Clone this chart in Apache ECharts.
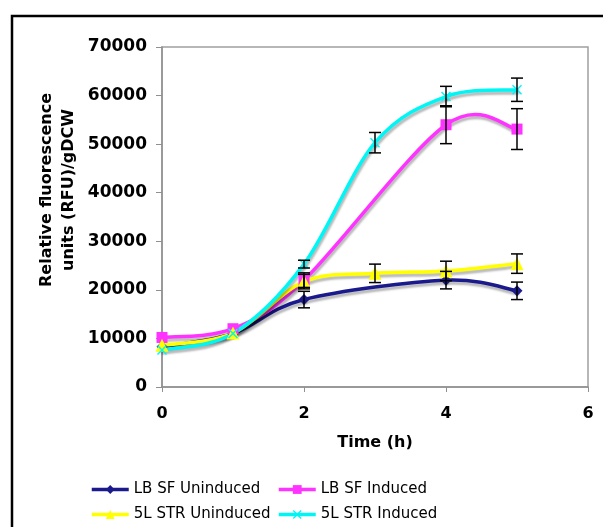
<!DOCTYPE html>
<html>
<head>
<meta charset="utf-8">
<script src="https://cdn.jsdelivr.net/npm/echarts@6/dist/echarts.min.js"></script>
<style>html,body{margin:0;padding:0;background:#fff;}#c{width:603px;height:527px;}</style>
</head>
<body>
<div id="c"></div>
<script>
// Data (time in hours, fluorescence RFU/gDCW)
const seriesNames = ['LB SF Uninduced', 'LB SF Induced', '5L STR Uninduced', '5L STR Induced'];
const lbSfUninduced = [[0, 8300], [1, 11000], [2, 18000], [4, 22000], [5, 19800]];
const lbSfUninducedErr = [0, 0, 1700, 1800, 1800];
const lbSfInduced = [[0, 10200], [1, 12000], [2, 22000], [4, 54000], [5, 53100]];
const lbSfInducedErr = [0, 0, 1500, 3900, 4200];
const strUninduced = [[0, 8600], [1, 11100], [2, 21700], [3, 23400], [4, 23900], [5, 25400]];
const strUninducedErr = [0, 0, 1500, 1900, 2000, 2000];
const strInduced = [[0, 7600], [1, 11000], [2, 25300], [3, 50300], [4, 59800], [5, 61200]];
const strInducedErr = [0, 0, 800, 2100, 2100, 2400];
const xTicks = [0, 2, 4, 6];
const yTicks = [0, 10000, 20000, 30000, 40000, 50000, 60000, 70000];

const colors = ['#1a1a8c', '#ff33ff', '#ffff00', '#00f5f5'];
const symbols = ['diamond', 'rect', 'triangle',
  'path://M0,1 L1,0 L5,4 L9,0 L10,1 L6,5 L10,9 L9,10 L5,6 L1,10 L0,9 L4,5 Z'];
const symbolSizes = [11, 11, 13, 10];
const allData = [lbSfUninduced, lbSfInduced, strUninduced, strInduced];
const allErr = [lbSfUninducedErr, lbSfInducedErr, strUninducedErr, strInducedErr];

const chart = echarts.init(document.getElementById('c'));
const font = 'DejaVu Sans';

// Smooth (Catmull-Rom style, like the spreadsheet) curve drawn through the library's scale
const curveSeries = seriesNames.map((name, i) => ({
  type: 'custom',
  name: name + ' curve',
  z: 1 + i,
  silent: true,
  data: allData[i],
  renderItem: function (params, api) {
    if (params.dataIndex !== 0) return null;
    const pts = allData[i].map(p => api.coord(p));
    const children = [];
    for (let j = 0; j < pts.length - 1; j++) {
      const p0 = pts[Math.max(j - 1, 0)], p1 = pts[j], p2 = pts[j + 1], p3 = pts[Math.min(j + 2, pts.length - 1)];
      children.push({
        type: 'bezierCurve',
        shape: {
          x1: p1[0], y1: p1[1], x2: p2[0], y2: p2[1],
          cpx1: p1[0] + (p2[0] - p0[0]) / 6, cpy1: p1[1] + (p2[1] - p0[1]) / 6,
          cpx2: p2[0] - (p3[0] - p1[0]) / 6, cpy2: p2[1] - (p3[1] - p1[1]) / 6
        },
        style: {
          fill: null, stroke: colors[i], lineWidth: 3.5, lineCap: 'round',
          shadowColor: 'rgba(0,0,0,0.28)', shadowBlur: 2, shadowOffsetX: 1, shadowOffsetY: 3
        }
      });
    }
    return { type: 'group', children: children };
  }
}));

const markerSeries = seriesNames.map((name, i) => ({
  name: name,
  type: 'line',
  data: allData[i],
  symbol: symbols[i],
  symbolSize: symbolSizes[i],
  showAllSymbol: true,
  z: 5 + i,
  itemStyle: { color: colors[i] },
  lineStyle: { color: colors[i], width: 3.5, opacity: 0 }
}));

const errSeries = seriesNames.map((name, i) => ({
  type: 'custom',
  name: name + ' err',
  z: 10,
  silent: true,
  data: allData[i].map((p, j) => [p[0], p[1], allErr[i][j]]),
  renderItem: function (params, api) {
    const x = api.value(0), y = api.value(1), e = api.value(2);
    if (!(e > 0)) return null;
    const hi = api.coord([x, y + e]);
    const lo = api.coord([x, y - e]);
    const hw = 6;
    const st = { stroke: '#000', lineWidth: 1.5 };
    return {
      type: 'group',
      children: [
        { type: 'line', shape: { x1: hi[0], y1: hi[1], x2: lo[0], y2: lo[1] }, style: st },
        { type: 'line', shape: { x1: hi[0] - hw, y1: hi[1], x2: hi[0] + hw, y2: hi[1] }, style: st },
        { type: 'line', shape: { x1: lo[0] - hw, y1: lo[1], x2: lo[0] + hw, y2: lo[1] }, style: st }
      ]
    };
  }
}));

const legendPos = [[90, 482], [277, 482], [90, 507], [277, 507]];
const legends = seriesNames.map((name, i) => ({
  data: [name], left: legendPos[i][0], top: legendPos[i][1],
  itemWidth: 37, itemHeight: 11, padding: 0,
  lineStyle: { opacity: 1, width: 3.5 },
  textStyle: { fontFamily: font, fontSize: 15, color: '#000' }
}));

chart.setOption({
  animation: false,
  backgroundColor: '#fff',
  grid: { left: 162, top: 47, right: 15, bottom: 140, show: true, borderColor: '#a0a0a0', borderWidth: 1.5 },
  xAxis: {
    type: 'value', min: xTicks[0], max: xTicks[xTicks.length - 1], interval: 2,
    name: 'Time (h)', nameLocation: 'middle', nameGap: 48,
    nameTextStyle: { fontFamily: font, fontWeight: 'bold', fontSize: 16, color: '#000' },
    axisLine: { lineStyle: { color: '#909090', width: 1.5 } },
    axisTick: { show: true, length: 5, lineStyle: { color: '#909090' } },
    axisLabel: { fontFamily: font, fontWeight: 'bold', fontSize: 16, color: '#000', margin: 19 },
    splitLine: { show: false }
  },
  yAxis: {
    type: 'value', min: yTicks[0], max: yTicks[yTicks.length - 1], interval: 10000,
    axisLine: { show: true, lineStyle: { color: '#909090', width: 1.5 } },
    axisTick: { show: true, length: 6, lineStyle: { color: '#909090' } },
    axisLabel: { fontFamily: font, fontWeight: 'bold', fontSize: 17, color: '#000', margin: 15,
      formatter: v => String(v) },
    splitLine: { show: false }
  },
  legend: legends,
  graphic: [
    {
      type: 'rect', shape: { x: 12, y: 16, width: 800, height: 700 },
      style: { fill: 'none', stroke: '#000', lineWidth: 2.5 }, silent: true
    },
    {
      type: 'text', x: 58, y: 190, rotation: Math.PI / 2,
      style: {
        text: 'Relative fluorescence\nunits (RFU)/gDCW', fontFamily: font, fontWeight: 'bold',
        fontSize: 16, lineHeight: 22, align: 'center', verticalAlign: 'middle', fill: '#000'
      }
    }
  ],
  series: curveSeries.concat(markerSeries, errSeries)
});
</script>
</body>
</html>
